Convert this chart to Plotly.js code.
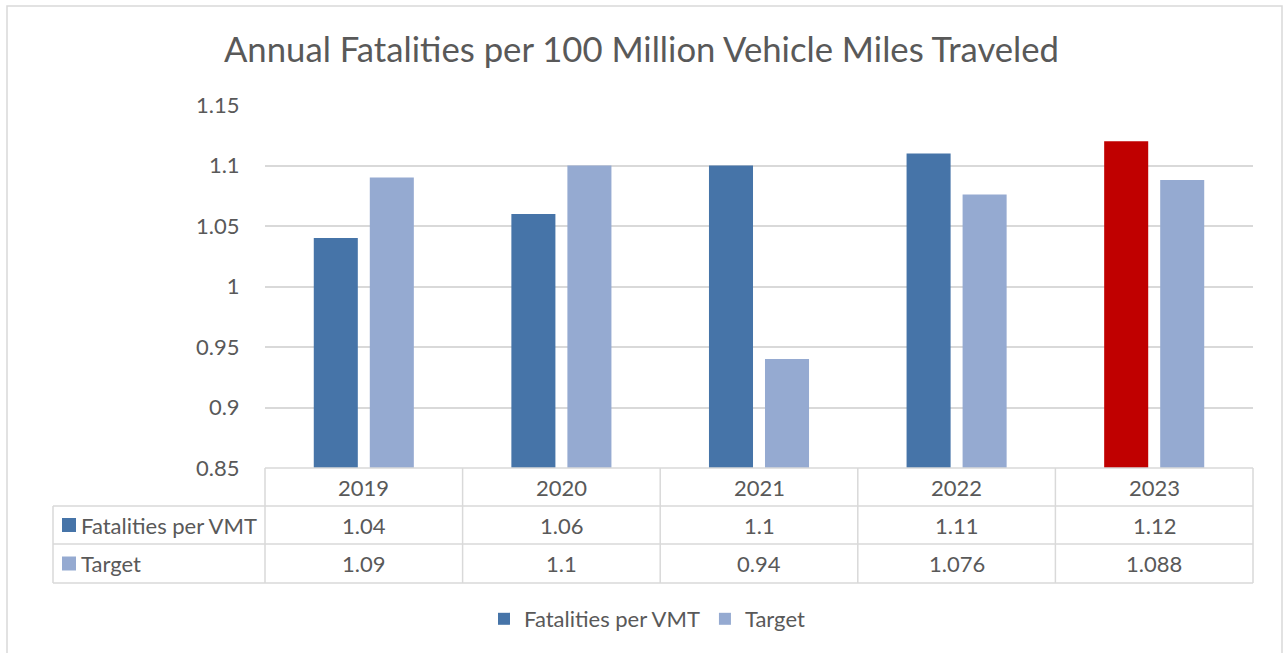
<!DOCTYPE html>
<html>
<head>
<meta charset="utf-8">
<script src="https://cdn.plot.ly/plotly-3.0.1.min.js"></script>
<style>
  html, body { margin: 0; padding: 0; background: #ffffff; }
  #chart { width: 1283px; height: 653px; }
</style>
</head>
<body>
<div id="chart"></div>
<script>
// ---- data ----
const years = ['2019', '2020', '2021', '2022', '2023'];
const fatalities = [1.04, 1.06, 1.1, 1.11, 1.12];
const target = [1.09, 1.1, 0.94, 1.076, 1.088];
const seriesNames = ['Fatalities per VMT', 'Target'];
const chartTitle = 'Annual Fatalities per 100 Million Vehicle Miles Traveled';

// ---- style ----
const W = 1283, H = 653;
const M = { l: 265, r: 30, t: 105, b: 185 };
const DARK = '#4674A8', LIGHT = '#95AAD1', RED = '#C00000';
const TEXT = '#595959', GRID = '#D9D9D9';
const FONT = 'Lato, "Open Sans", sans-serif';
const FS = 22;

const plotW = W - M.l - M.r, plotH = H - M.t - M.b;
const xp = px => (px - M.l) / plotW;          // pixel -> paper x
const yp = py => (H - M.b - py) / plotH;      // pixel -> paper y

// table rows (pixel bounds)
const rowTop = [H - M.b, 506, 544, 583];
const rowMid = i => (rowTop[i] + rowTop[i + 1]) / 2;
const headLeft = 53;

const fatColors = years.map((y, i) => i === years.length - 1 ? RED : DARK);

const traces = [
  { type: 'bar', name: seriesNames[0], x: years, y: fatalities,
    marker: { color: fatColors }, hoverinfo: 'x+y' },
  { type: 'bar', name: seriesNames[1], x: years, y: target,
    marker: { color: LIGHT }, hoverinfo: 'x+y' }
];

const shapes = [];
const line = (x0, y0, x1, y1, xref) => shapes.push({
  type: 'line', xref: xref || 'paper', yref: 'paper',
  x0: x0, y0: y0, x1: x1, y1: y1, line: { color: GRID, width: 1.5 }
});
// outer chart border
shapes.push({ type: 'rect', xref: 'paper', yref: 'paper',
  x0: xp(7), x1: xp(1282), y0: yp(6), y1: yp(660),
  line: { color: GRID, width: 1.5 }, layer: 'below' });
// horizontal table lines
line(0, yp(rowTop[0]), 1, yp(rowTop[0]));
line(xp(headLeft), yp(rowTop[1]), 1, yp(rowTop[1]));
line(xp(headLeft), yp(rowTop[2]), 1, yp(rowTop[2]));
line(xp(headLeft), yp(rowTop[3]), 1, yp(rowTop[3]));
// vertical table lines at category boundaries (paper fraction of category slots)
for (let i = 0; i <= years.length; i++) {
  line(i / years.length, yp(rowTop[0]), i / years.length, yp(rowTop[3]));
}
line(xp(headLeft), yp(rowTop[1]), xp(headLeft), yp(rowTop[3]));
// legend keys in table header
const keyColors = [DARK, LIGHT];
for (let r = 0; r < 2; r++) {
  const c = rowMid(r + 1);
  shapes.push({ type: 'rect', xref: 'paper', yref: 'paper',
    x0: xp(62), x1: xp(76), y0: yp(c - 7), y1: yp(c + 7),
    line: { width: 0 }, fillcolor: keyColors[r] });
}

const annotations = [];
const ann = (x, xref, y, text, xanchor) => annotations.push({
  x: x, xref: xref, y: y, yref: 'paper', text: text, showarrow: false,
  xanchor: xanchor || 'center', yanchor: 'middle',
  font: { family: FONT, size: FS, color: TEXT }
});
years.forEach((yr, i) => {
  const cx = (i + 0.5) / years.length;
  ann(cx, 'paper', yp(rowMid(0)), yr);
  ann(cx, 'paper', yp(rowMid(1)), String(fatalities[i]));
  ann(cx, 'paper', yp(rowMid(2)), String(target[i]));
});
ann(xp(79), 'paper', yp(rowMid(1)), seriesNames[0], 'left');
ann(xp(79), 'paper', yp(rowMid(2)), seriesNames[1], 'left');

const layout = {
  width: W, height: H,
  margin: M,
  paper_bgcolor: '#ffffff', plot_bgcolor: '#ffffff',
  font: { family: FONT, size: FS, color: TEXT },
  title: { text: chartTitle, font: { family: FONT, size: 34.7, color: TEXT },
    x: 0.5, xref: 'container', xanchor: 'center', y: 1 - 50 / H, yref: 'container', yanchor: 'middle' },
  barmode: 'group', bargap: 0.433, bargroupgap: 0.214,
  xaxis: { type: 'category', range: [-0.5, years.length - 0.5], showticklabels: false,
    showgrid: false, zeroline: false, showline: false, ticks: '' },
  yaxis: { range: [0.85, 1.15], dtick: 0.05, tick0: 0.85, showgrid: true, gridcolor: GRID,
    gridwidth: 1.5, zeroline: false, showline: false, ticks: 'outside', ticklen: 20,
    tickcolor: 'rgba(0,0,0,0)', tickfont: { family: FONT, size: FS, color: TEXT } },
  showlegend: true,
  legend: { orientation: 'h', x: xp(647), xref: 'paper',
    xanchor: 'center', y: yp(619), yanchor: 'middle',
    font: { family: FONT, size: FS, color: TEXT }, bgcolor: 'rgba(0,0,0,0)', itemwidth: 30 },
  shapes: shapes,
  annotations: annotations
};

Plotly.newPlot('chart', traces, layout, { displayModeBar: false, responsive: false });
</script>
</body>
</html>
